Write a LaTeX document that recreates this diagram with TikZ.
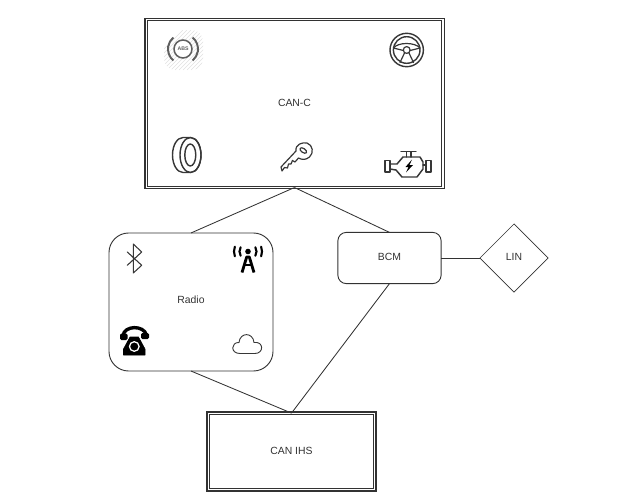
\documentclass[tikz,border=0pt]{standalone}
\usepackage{fontspec}
\setmainfont{Liberation Sans}
\usetikzlibrary{positioning,calc,shapes.geometric}
\definecolor{busgrey}{RGB}{50,50,50}
\definecolor{icongrey}{RGB}{55,55,55}

\begin{document}
\begin{tikzpicture}[x=0.025cm,y=-0.025cm,
  lbl/.style={font=\fontsize{7.4pt}{9pt}\selectfont,text=busgrey,text depth=1.6pt},
  bus/.style={lbl,draw=busgrey,double=white,double distance=0.8pt,line width=0.95pt,outer sep=0pt},
  ecu/.style={lbl,draw=busgrey,rounded corners=#1,line width=0.65pt,outer sep=0pt},
  ecu/.default=6pt,
  lan/.style={lbl,draw=busgrey,diamond,aspect=1,inner sep=0pt,line width=0.5pt,outer sep=0pt},
  wire/.style={draw=busgrey,line width=0.6pt},
  ico/.style={draw=icongrey,line width=0.85pt,line join=round,line cap=round},
  icob/.style={draw=black,fill=black,line join=round}]
  \useasboundingbox (0,0) rectangle (640,501);
  \node[bus,minimum width=7.42cm,minimum height=4.2cm] (canc) at (294.5,103.5) {CAN-C};
  \node[ecu=14pt,minimum width=4.1cm,minimum height=3.45cm] (radio) at (191,302) {};
  \node[lbl] (radiotxt) at (191,301) {Radio};
  \node[ecu,minimum width=2.58cm,minimum height=1.28cm] (bcm) at (389.5,258) {BCM};
  \node[lan,minimum width=1.7cm,minimum height=1.7cm] (lin) at (514,258) {LIN};
  \node[bus,minimum width=4.17cm,minimum height=1.92cm] (ihs) at (291.5,451.5) {CAN IHS};
  \draw[wire] (canc.south) -- (radio.north);
  \draw[wire] (canc.south) -- (bcm.north);
  \draw[wire] (bcm.east) -- (lin.west);
  \draw[wire] (radio.south) -- (ihs.north);
  \draw[wire] (bcm.south) -- (ihs.north);
  % abs lamp
  \begin{scope}
    \clip[rounded corners=8pt] (164,30) rectangle (203,70);
    \foreach \i in {0,4,...,80} {
      \draw[black!12,line width=0.35pt] (143+\i,70) -- (183+\i,30);
    }
  \end{scope}
  \fill[white] (183,49) circle (9);
  \draw[icongrey!80,line width=1.1pt] (183,49) circle (9);
  \draw[icongrey!80,line width=1.4pt] (183,49) ++(130:15) arc[start angle=130,end angle=230,radius=15];
  \draw[icongrey!80,line width=1.4pt] (183,49) ++(-50:15) arc[start angle=-50,end angle=50,radius=15];
  \node[font=\fontsize{3.7pt}{4pt}\selectfont\bfseries,text=icongrey!80,inner sep=0pt] (abstxt) at (183,49) {ABS};
  % steering wheel
  \draw[ico,line width=1pt] (406.7,50) circle (16.7) (406.7,50) circle (13.3);
  \draw[ico] (406.7,50) circle (3.4);
  \draw[ico] (393.5,48) .. controls (398,42) and (415,42) .. (420,48);
  \draw[ico] (393.5,48) -- (403.3,50.5) (420,48) -- (410.1,50.5);
  \draw[ico] (404.5,53) -- (400,62.5) (409,53) -- (413.5,62.5);
  % tyre
  \draw[ico,line width=1pt,fill=white] (183,137.5) -- (190.5,137.5) arc[start angle=-90,end angle=90,x radius=10.5,y radius=17.5]
    -- (183,172.5) arc[start angle=90,end angle=270,x radius=10.5,y radius=17.5] -- cycle;
  \draw[ico,line width=1pt] (190.5,155) ellipse (10.5 and 17.5);
  \draw[ico,line width=1pt] (190.3,155) ellipse (5.5 and 11);
  % key
  \draw[ico,fill=white] (281,167) -- (296,151) .. controls (295,144) and (303,142) .. (307,143)
    .. controls (313,145) and (314,153) .. (309.5,157) .. controls (306,160) and (302,160) .. (298.5,158)
    -- (295,162) -- (292.5,160.5) -- (291,164) -- (288.5,164) -- (287.5,168) -- (284.5,167.5) -- (282,171) -- cycle;
  \draw[ico,rotate around={-35:(303.3,150.5)}] (303.3,150.5) ellipse (3.8 and 2);
  % engine
  \draw[ico,line width=1.05pt] (390,164) -- (397,164) -- (403,157) -- (420,157) -- (423,162) -- (423,169)
    -- (417,177) -- (402,177) -- (396,170) -- (390,169);
  \draw[ico,line width=1.05pt] (406.5,157) -- (406.5,152) (411,157) -- (411,152) (401,151.5) -- (416,151.5);
  \draw[ico,line width=1.05pt] (385,160.5) -- (385,172) -- (390,172) -- (390,160.5) -- cycle;
  \draw[ico,line width=1.05pt] (423,165) -- (426,165) (426,160.5) -- (426,172) -- (431,172) -- (431,160.5) -- cycle;
  \fill[black] (412,159.5) -- (405.5,167) -- (408.5,167) -- (406,172.5) -- (413,165) -- (409.5,165) -- cycle;
  % bluetooth
  \draw[ico,line width=0.75pt] (127.3,252) -- (141.7,265.3) -- (133.3,273) -- (133.3,244) -- (141.7,252) -- (127.3,265.3);
  % tower
  \fill[black] (248,251.5) circle (2.8);
  \draw[black,line width=1.5pt,line cap=round] (248,251.5) ++(150:8.5) arc[start angle=150,end angle=210,radius=8.5];
  \draw[black,line width=1.5pt,line cap=round] (248,251.5) ++(160:14) arc[start angle=160,end angle=200,radius=14];
  \draw[black,line width=1.5pt,line cap=round] (248,251.5) ++(-30:8.5) arc[start angle=-30,end angle=30,radius=8.5];
  \draw[black,line width=1.5pt,line cap=round] (248,251.5) ++(-20:14) arc[start angle=-20,end angle=20,radius=14];
  \draw[black,line width=2pt,line join=round] (242,272.5) -- (246.7,257) -- (249.3,257) -- (254,272.5);
  \draw[black,line width=1.4pt] (244,265) -- (252,265);
  % telephone
  \draw[black,line width=2.4pt] (123,336) .. controls (124,325) and (144,325) .. (146.5,335);
  \fill[black,rounded corners=1pt] (120,333.5) rectangle (127.5,340);
  \fill[black,rounded corners=1pt] (141,333) rectangle (149,339);
  \draw[icob] (130,337) -- (138.5,337) -- (145,349) -- (145,355) -- (123.5,355) -- (123.5,349) -- cycle;
  \draw[white,line width=0.9pt] (134.3,346.5) circle (4.8);
  % cloud
  \draw[ico,line width=0.65pt,fill=white] (240,353.5) .. controls (230,353.5) and (231,342) .. (239,342.5)
    .. controls (240,332) and (253,332) .. (254,342.5) .. controls (264,341) and (264,353.5) .. (255,353.5) -- cycle;
\end{tikzpicture}
\end{document}
